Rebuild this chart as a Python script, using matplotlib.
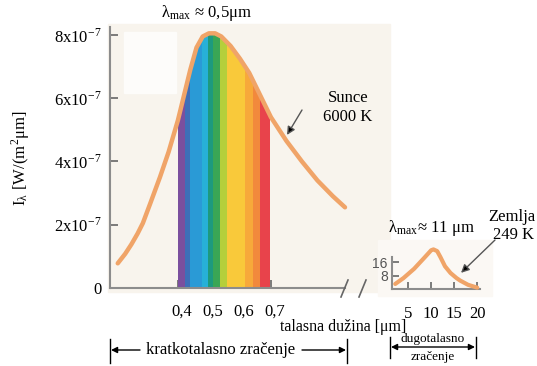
import numpy as np
import matplotlib
matplotlib.use("Agg")
import matplotlib.pyplot as plt
import matplotlib.transforms as mtrans
from matplotlib.lines import Line2D
from matplotlib.patches import Polygon, Rectangle, FancyArrowPatch

plt.rcParams['font.family'] = ['Liberation Serif', 'DejaVu Serif']
plt.rcParams['mathtext.fontset'] = 'stix'

# ---------------- data ----------------
# Sun (6000 K) spectral intensity, units of 1e-7 W/(m^2 um)
sun_lam = [0.206, 0.23, 0.25, 0.27, 0.287, 0.31, 0.342, 0.37, 0.40, 0.42, 0.44, 0.46, 0.48,
           0.50, 0.52, 0.54, 0.57, 0.60, 0.63, 0.66, 0.70, 0.75, 0.80, 0.85,
           0.90, 0.939]
sun_I = [0.78, 1.08, 1.38, 1.72, 2.05, 2.65, 3.5, 4.3, 5.3, 6.1, 6.9, 7.6, 7.95,
         8.05, 8.05, 7.95, 7.65, 7.25, 6.8, 6.2, 5.4, 4.65, 4.0, 3.4,
         2.9, 2.55]

# Earth (249 K) spectral intensity (inset)
earth_lam = [2.2, 4.0, 6.3, 8.5, 10.0, 10.5, 11.3, 12.0, 13.0, 14.2, 15.5, 16.3, 18.0, 20.0]
earth_I = [3.0, 6.5, 12.0, 18.5, 23.0, 23.5, 22.5, 19.0, 13.5, 9.5, 6.5, 5.0, 2.5, 0.8]

# visible spectrum bands
band_edges = [0.400, 0.423, 0.439, 0.477, 0.497, 0.513, 0.535, 0.558, 0.616, 0.642, 0.665, 0.697]
band_colors = ['#7b4f9e', '#3e6fb8', '#2a9ad6', '#27b0d8', '#1d9a7e', '#3aa655',
               '#b5cf3b', '#f9c93a', '#f7a93a', '#f2893c', '#e8434b']

main_xticks = [0.4, 0.5, 0.6, 0.7]
main_xticklabels = ['0,4', '0,5', '0,6', '0,7']
main_yticks = [0, 2, 4, 6, 8]
main_yticklabels = ['0', r'2x10$^{\mathregular{-7}}$', r'4x10$^{\mathregular{-7}}$',
                    r'6x10$^{\mathregular{-7}}$', r'8x10$^{\mathregular{-7}}$']
inset_xticks = [5, 10, 15, 20]
inset_yticks = [8, 16]

# ---------------- figure ----------------
W, H = 537, 366
fig = plt.figure(figsize=(W / 100, H / 100), dpi=100)
def fx(px): return px / W
def fy(py): return 1 - py / H

spine_c = '#8c8c8c'
curve_c = '#f0a468'

# background (scan look)
fig.add_artist(Rectangle((fx(108), fy(292)), fx(390) - fx(108), fy(24) - fy(292),
                         transform=fig.transFigure, color='#f8f4ed', zorder=0))
fig.add_artist(Rectangle((fx(378), fy(296)), fx(492) - fx(378), fy(240) - fy(296),
                         transform=fig.transFigure, color='#fbf8f4', zorder=0))
fig.add_artist(Rectangle((fx(124), fy(93)), fx(176) - fx(124), fy(32) - fy(93),
                         transform=fig.transFigure, color='#fdfcfa', zorder=0))

ax = fig.add_axes([fx(110), fy(288), fx(345) - fx(110), fy(27) - fy(288)])
ax.set_facecolor('none')
ax.set_xlim(0.181, 0.939)
ax.set_ylim(0, 8.25)

# rainbow clipped under the curve
poly = Polygon(np.column_stack([[sun_lam[0]] + sun_lam + [sun_lam[-1]],
                                [0] + sun_I + [0]]),
               closed=True, transform=ax.transData, facecolor='none', edgecolor='none')
ax.add_patch(poly)
for i, c in enumerate(band_colors):
    r = ax.axvspan(band_edges[i], band_edges[i + 1], color=c, lw=0, zorder=2)
    r.set_clip_path(poly)

ax.plot(sun_lam, sun_I, color=curve_c, lw=3.2, solid_capstyle='round',
        solid_joinstyle='round', clip_on=False, zorder=3)

for s in ['top', 'right']:
    ax.spines[s].set_visible(False)
for s in ['left', 'bottom']:
    ax.spines[s].set_color(spine_c)
    ax.spines[s].set_linewidth(1.5)
ax.set_xticks(main_xticks)
ax.set_xticklabels(main_xticklabels)
ax.set_yticks(main_yticks)
ax.set_yticklabels(main_yticklabels)
ax.tick_params(axis='both', direction='in', color='#666666', width=1.2, length=6, labelsize=12)
ax.tick_params(axis='x', pad=11)
ax.tick_params(axis='y', pad=6)
shift = mtrans.ScaledTranslation(0.04, 0, fig.dpi_scale_trans)
for t in ax.get_xticklabels():
    t.set_transform(t.get_transform() + shift)

# Sun annotation
tip_l = 0.745
ax.annotate('', xy=(tip_l, np.interp(tip_l, sun_lam, sun_I)), xytext=(302, H - 110),
            textcoords='figure pixels',
            arrowprops=dict(arrowstyle='-|>', color='#555555', fc='black', lw=1,
                            mutation_scale=12, shrinkA=0, shrinkB=3))
fig.text(fx(348), fy(98), 'Sunce', ha='center', va='center', fontsize=12)
fig.text(fx(348), fy(117), '6000 K', ha='center', va='center', fontsize=12)
fig.text(fx(207), fy(13), r'λ$_{\mathregular{max}}$ ≈ 0,5μm', ha='center', va='center', fontsize=12)

# y label
fig.text(fx(21), fy(158), r'I$_{\mathregular{λ}}$ [W/(m$^{\mathregular{2}}$μm]', rotation=90,
         ha='center', va='center', fontsize=12)

# ---------------- inset ----------------
ax2 = fig.add_axes([fx(392), fy(289), fx(480) - fx(392), fy(257) - fy(289)])
ax2.set_facecolor('none')
ax2.set_xlim(1.5, 20.6)
ax2.set_ylim(0, 19)
ax2.plot(earth_lam, earth_I, color=curve_c, lw=3, solid_capstyle='round',
         solid_joinstyle='round', clip_on=False, zorder=3)
for s in ['top', 'right']:
    ax2.spines[s].set_visible(False)
for s in ['left', 'bottom']:
    ax2.spines[s].set_color(spine_c)
    ax2.spines[s].set_linewidth(1.5)
ax2.set_xticks(inset_xticks)
ax2.set_yticks(inset_yticks)
ax2.tick_params(axis='both', direction='in', color='#666666', width=1.2, length=5)
ax2.tick_params(axis='x', pad=12, labelsize=12)
ax2.tick_params(axis='y', pad=3, labelsize=10, labelcolor='#555555')
for t in ax2.get_yticklabels():
    t.set_family(['Liberation Sans', 'DejaVu Sans'])

e_tip = 15.4
ax2.annotate('', xy=(e_tip, np.interp(e_tip, earth_lam, earth_I)), xytext=(495, H - 240),
             textcoords='figure pixels',
             arrowprops=dict(arrowstyle='-|>', color='#555555', fc='black', lw=1,
                             mutation_scale=12, shrinkA=0, shrinkB=5))
fig.text(fx(431), fy(228), r'λ$_{\mathregular{max}}$≈ 11 μm', ha='center', va='center', fontsize=12)
fig.text(fx(512), fy(217), 'Zemlja', ha='center', va='center', fontsize=12)
fig.text(fx(514), fy(235), '249 K', ha='center', va='center', fontsize=12)

# x axis title and break marks
fig.text(fx(280), fy(327), 'talasna dužina [μm]', ha='left', va='center', fontsize=11.5)
for x0 in (341, 359):
    fig.add_artist(Line2D([fx(x0), fx(x0 + 7)], [fy(297), fy(280)], color='#666666', lw=1.2))

# brackets
def vbar(x, y0, y1):
    fig.add_artist(Line2D([fx(x), fx(x)], [fy(y0), fy(y1)], color='black', lw=1))

def harrow(x_from, x_to, y, style='-|>'):
    fig.add_artist(FancyArrowPatch((fx(x_from), fy(y)), (fx(x_to), fy(y)),
                   transform=fig.transFigure, arrowstyle=style, mutation_scale=9,
                   color='black', lw=1, shrinkA=0, shrinkB=0))

vbar(110, 339, 363)
vbar(347, 339, 363)
harrow(140, 111, 350)
harrow(302, 346, 350)
fig.text(fx(221), fy(350), 'kratkotalasno zračenje', ha='center', va='center', fontsize=12)

vbar(390, 337, 358)
vbar(476, 337, 358)
harrow(391, 475, 347, style='<|-|>')
fig.text(fx(433), fy(339), 'dugotalasno', ha='center', va='center', fontsize=9.5)
fig.text(fx(433), fy(357), 'zračenje', ha='center', va='center', fontsize=9.5)

fig.savefig('out.png', dpi=100)
